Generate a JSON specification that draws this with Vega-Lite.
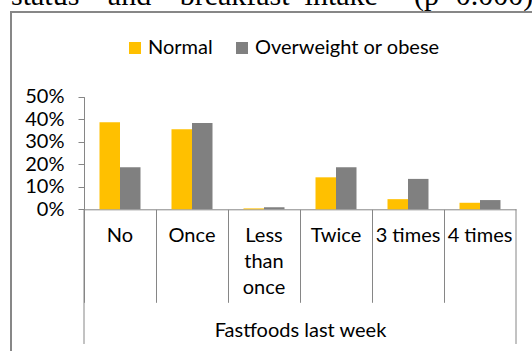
{
  "$schema": "https://vega.github.io/schema/vega-lite/v6.json",
  "autosize": "none",
  "width": 560,
  "height": 360,
  "padding": {"left": 11, "top": 12, "right": -39, "bottom": -21},
  "background": "white",
  "title": {
    "text": "status\u00a0\u00a0\u00a0\u2009and\u00a0\u00a0\u00a0\u2009breakfast\u00a0\u00a0intake\u00a0\u00a0\u00a0\u00a0\u2009(p=0.000)",
    "orient": "top",
    "anchor": "start",
    "frame": "group",
    "font": "Liberation Serif",
    "fontSize": 30,
    "fontWeight": "normal",
    "color": "black",
    "baseline": "alphabetic",
    "offset": 0,
    "dy": 23
  },
  "config": {
    "view": {"stroke": "#878787", "strokeWidth": 2},
    "font": "Lato",
    "axis": {
      "domainColor": "#868686",
      "tickColor": "#868686",
      "labelColor": "black",
      "titleColor": "black",
      "labelFont": "Lato",
      "titleFont": "Lato",
      "labelFontSize": 20,
      "titleFontSize": 20,
      "titleFontWeight": "normal",
      "grid": false
    }
  },
  "data": {
    "values": [
      {"freq": "No", "group": "Normal", "pct": 0.386},
      {"freq": "No", "group": "Overweight or obese", "pct": 0.187},
      {"freq": "Once", "group": "Normal", "pct": 0.356},
      {"freq": "Once", "group": "Overweight or obese", "pct": 0.383},
      {"freq": "Less than once", "group": "Normal", "pct": 0.004},
      {"freq": "Less than once", "group": "Overweight or obese", "pct": 0.009},
      {"freq": "Twice", "group": "Normal", "pct": 0.142},
      {"freq": "Twice", "group": "Overweight or obese", "pct": 0.187},
      {"freq": "3 times", "group": "Normal", "pct": 0.045},
      {"freq": "3 times", "group": "Overweight or obese", "pct": 0.135},
      {"freq": "4 times", "group": "Normal", "pct": 0.029},
      {"freq": "4 times", "group": "Overweight or obese", "pct": 0.041}
    ]
  },
  "layer": [
    {
      "mark": {"type": "bar"},
      "encoding": {
        "x": {
          "field": "freq",
          "type": "nominal",
          "scale": {
            "domain": ["No", "Once", "Less than once", "Twice", "3 times", "4 times"],
            "range": [73, 505],
            "paddingInner": 0,
            "paddingOuter": 0
          },
          "axis": {
            "title": "Fastfoods last week",
            "orient": "bottom",
            "offset": -162.7,
            "tickSize": 93,
            "bandPosition": 0,
            "labelPadding": -77,
            "labelAngle": 0,
            "labelLineHeight": 26,
            "labelExpr": "datum.label == 'Less than once' ? ['Less', 'than', 'once'] : datum.label",
            "labelOverlap": false,
            "labelBound": false,
            "labelFlush": false,
            "labelLimit": 0,
            "titleY": 121,
            "titleBaseline": "middle"
          }
        },
        "xOffset": {
          "field": "group",
          "type": "nominal",
          "scale": {
            "domain": ["Normal", "Overweight or obese"],
            "paddingInner": 0,
            "paddingOuter": 0.756
          }
        },
        "y": {
          "field": "pct",
          "type": "quantitative",
          "stack": null,
          "scale": {"domain": [0, 0.5], "range": [197.3, 84.7], "nice": false, "zero": true},
          "axis": {
            "title": null,
            "values": [0, 0.1, 0.2, 0.3, 0.4, 0.5],
            "format": ".0%",
            "offset": -73,
            "tickSize": 6,
            "labelPadding": 14
          }
        },
        "color": {
          "field": "group",
          "type": "nominal",
          "scale": {
            "domain": ["Normal", "Overweight or obese"],
            "range": ["#FFC000", "#808080"]
          },
          "legend": {
            "title": null,
            "orient": "none",
            "legendX": 114,
            "legendY": 26,
            "direction": "horizontal",
            "symbolType": "square",
            "symbolSize": 144,
            "symbolStrokeWidth": 0,
            "symbolOpacity": 1,
            "labelFont": "Lato",
            "labelFontSize": 20,
            "labelColor": "black",
            "labelOffset": 3,
            "labelLimit": 400,
            "columnPadding": 19,
            "padding": 0
          }
        }
      }
    },
    {
      "data": {"values": [{"edge": "left"}]},
      "mark": {"type": "rule", "color": "#868686", "strokeWidth": 1},
      "encoding": {
        "x": {"datum": "No", "type": "nominal", "bandPosition": 0},
        "y": {"datum": 0, "type": "quantitative"},
        "y2": {"datum": -0.598}
      }
    },
    {
      "data": {"values": [{"edge": "right"}]},
      "mark": {"type": "rule", "color": "#868686", "strokeWidth": 1},
      "encoding": {
        "x": {"datum": "4 times", "type": "nominal", "bandPosition": 1},
        "y": {"datum": 0, "type": "quantitative"},
        "y2": {"datum": -0.598}
      }
    }
  ]
}
